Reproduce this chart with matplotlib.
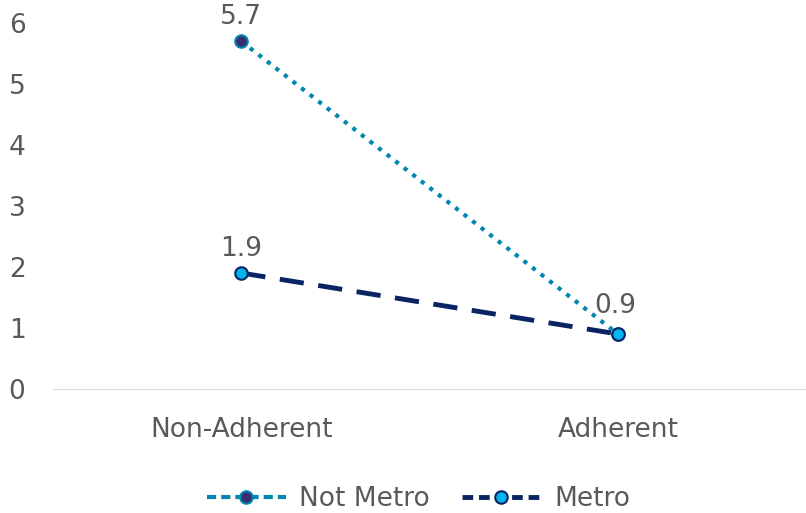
import matplotlib.pyplot as plt
from matplotlib.lines import Line2D

categories = ["Non-Adherent", "Adherent"]
not_metro = [5.7, 0.9]
metro = [1.9, 0.9]

fig = plt.figure(figsize=(8.06, 5.13), dpi=100)
ax = fig.add_axes([0.066, 0.242, 0.934, 0.713])

teal = "#0086B0"
navy = "#0A2463"
x = range(len(categories))
ax.plot(x, not_metro, linestyle=(0, (1, 1.6)), linewidth=3, color=teal,
        marker="o", markersize=9, markerfacecolor="#3A2E6E", markeredgecolor=teal,
        markeredgewidth=1.5, zorder=2)
ax.plot(x, metro, linestyle=(0, (5, 3)), linewidth=3.5, color=navy,
        marker="o", markersize=9, markerfacecolor="#00B4F0", markeredgecolor=navy,
        markeredgewidth=1.5, zorder=3)

txt = "#595959"
fs = 19
ax.annotate("5.7", (0, not_metro[0]), xytext=(0, 8), textcoords="offset points",
            ha="center", va="bottom", fontsize=fs, color=txt)
ax.annotate("1.9", (0, metro[0]), xytext=(0, 8), textcoords="offset points",
            ha="center", va="bottom", fontsize=fs, color=txt)
ax.annotate("0.9", (1, not_metro[1]), xytext=(-2, 11), textcoords="offset points",
            ha="center", va="bottom", fontsize=fs, color=txt)

ax.set_xlim(-0.5, 1.5)
ax.set_ylim(0, 6)
ax.set_xticks(list(x))
ax.set_xticklabels(categories)
ax.set_yticks(range(7))
ax.tick_params(axis="both", length=0, labelsize=fs, labelcolor=txt)
ax.tick_params(axis="x", pad=20)
ax.tick_params(axis="y", pad=20)
for s in ["top", "right", "left"]:
    ax.spines[s].set_visible(False)
ax.spines["bottom"].set_color("#D9D9D9")

handles = [
    Line2D([], [], linestyle=(0, (2.2, 1.2)), linewidth=3, color=teal, marker="o",
           markersize=9, markerfacecolor="#3A2E6E", markeredgecolor=teal, markeredgewidth=1.5),
    Line2D([], [], linestyle=(0, (2.2, 1.2)), linewidth=3.5, color=navy, marker="o",
           markersize=9, markerfacecolor="#00B4F0", markeredgecolor=navy, markeredgewidth=1.5),
]
leg = ax.legend(handles, ["Not Metro", "Metro"], loc="upper center",
                bbox_to_anchor=(0.485, -0.2), ncol=2, frameon=False,
                fontsize=fs, handlelength=3, columnspacing=1.2, handletextpad=0.5)
for t in leg.get_texts():
    t.set_color(txt)

fig.savefig("out.png", dpi=100)
